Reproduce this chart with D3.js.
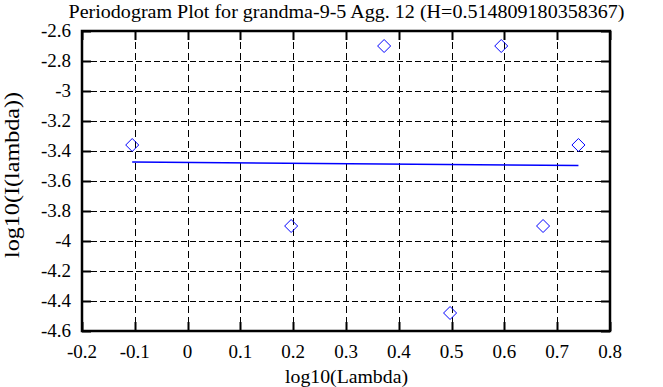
<!DOCTYPE html>
<html><head><meta charset="utf-8">
<script src="https://cdn.jsdelivr.net/npm/d3@7"></script>
<style>body{margin:0;background:#fff}svg{display:block}text{font-family:"Liberation Serif","Times New Roman",serif;fill:#000}</style>
</head><body><svg id="c" width="663" height="387"></svg>
<script>
const titleText = "Periodogram Plot for grandma-9-5 Agg. 12 (H=0.514809180358367)";
const xLabel = "log10(Lambda)";
const yLabel = "log10(I(lambda))";
const logLambda = [-0.1049, 0.1961, 0.3722, 0.4971, 0.5940, 0.6732, 0.7402];
const logI = [-3.36, -3.90, -2.70, -4.48, -2.70, -3.90, -3.36];
const fitX = [-0.1049, 0.7402];
const fitY = [-3.473, -3.497];
const xTicks = [-0.2, -0.1, 0, 0.1, 0.2, 0.3, 0.4, 0.5, 0.6, 0.7, 0.8];
const yTicks = [-2.6, -2.8, -3, -3.2, -3.4, -3.6, -3.8, -4, -4.2, -4.4, -4.6];

const svg = d3.select("#c");
const L = 82, R = 610, T = 31, B = 331;
const x = d3.scaleLinear().domain([-0.2, 0.8]).range([L, R]);
const y = d3.scaleLinear().domain([-4.6, -2.6]).range([B, T]);
const fs = 19;
const lab = d => String(+d.toFixed(1));

// grid
const g = svg.append("g");
g.selectAll("line.gx").data(xTicks.slice(1, -1)).join("line")
  .attr("x1", d => Math.round(x(d)) + 0.5).attr("x2", d => Math.round(x(d)) + 0.5)
  .attr("y1", T).attr("y2", B).attr("stroke", "#000").attr("stroke-dasharray", "7,4");
g.selectAll("line.gy").data(yTicks.slice(1, -1)).join("line")
  .attr("y1", d => Math.round(y(d)) + 0.5).attr("y2", d => Math.round(y(d)) + 0.5)
  .attr("x1", L).attr("x2", R).attr("stroke", "#000").attr("stroke-dasharray", "6,3");

// ticks (inside, mirrored)
const tl = 9;
xTicks.forEach(d => {
  const px = Math.round(x(d)) + 0.5;
  g.append("line").attr("x1", px).attr("x2", px).attr("y1", B).attr("y2", B - tl).attr("stroke", "#000").attr("stroke-width", 2);
  g.append("line").attr("x1", px).attr("x2", px).attr("y1", T).attr("y2", T + tl).attr("stroke", "#000").attr("stroke-width", 2);
});
yTicks.forEach(d => {
  const py = Math.round(y(d)) + 0.5;
  g.append("line").attr("y1", py).attr("y2", py).attr("x1", L).attr("x2", L + tl).attr("stroke", "#000").attr("stroke-width", 2);
  g.append("line").attr("y1", py).attr("y2", py).attr("x1", R).attr("x2", R - tl).attr("stroke", "#000").attr("stroke-width", 2);
});

// border
svg.append("rect").attr("x", L).attr("y", T).attr("width", R - L).attr("height", B - T)
  .attr("fill", "none").attr("stroke", "#000").attr("stroke-width", 2.5);

// tick labels
svg.selectAll("text.xt").data(xTicks).join("text")
  .attr("x", d => x(d)).attr("y", 358).attr("text-anchor", "middle").attr("font-size", fs)
  .text(lab);
svg.selectAll("text.yt").data(yTicks).join("text")
  .attr("x", 71).attr("y", d => y(d) + 6).attr("text-anchor", "end").attr("font-size", fs)
  .text(lab);

// fit line
svg.append("path").datum(fitX.map((v, i) => [v, fitY[i]]))
  .attr("d", d3.line().x(d => x(d[0])).y(d => y(d[1])))
  .attr("stroke", "#0000ff").attr("stroke-width", 1.4).attr("fill", "none");

// diamonds
const s = 6.5;
svg.selectAll("path.pt").data(logLambda.map((v, i) => [v, logI[i]])).join("path")
  .attr("d", d => { const cx = x(d[0]), cy = y(d[1]); return `M${cx},${cy - s}L${cx + s},${cy}L${cx},${cy + s}L${cx - s},${cy}Z`; })
  .attr("fill", "none").attr("stroke", "#0000ff").attr("stroke-width", 1);

// titles
svg.append("text").attr("x", 346.5).attr("y", 18).attr("text-anchor", "middle").attr("font-size", fs)
  .attr("textLength", 556).attr("lengthAdjust", "spacingAndGlyphs").text(titleText);
svg.append("text").attr("x", 346.5).attr("y", 383).attr("text-anchor", "middle").attr("font-size", fs)
  .attr("textLength", 123).attr("lengthAdjust", "spacingAndGlyphs").text(xLabel);
svg.append("text").attr("transform", "translate(19,175) rotate(-90)").attr("text-anchor", "middle").attr("font-size", 20)
  .attr("textLength", 166).attr("lengthAdjust", "spacingAndGlyphs").text(yLabel);
</script></body></html>
